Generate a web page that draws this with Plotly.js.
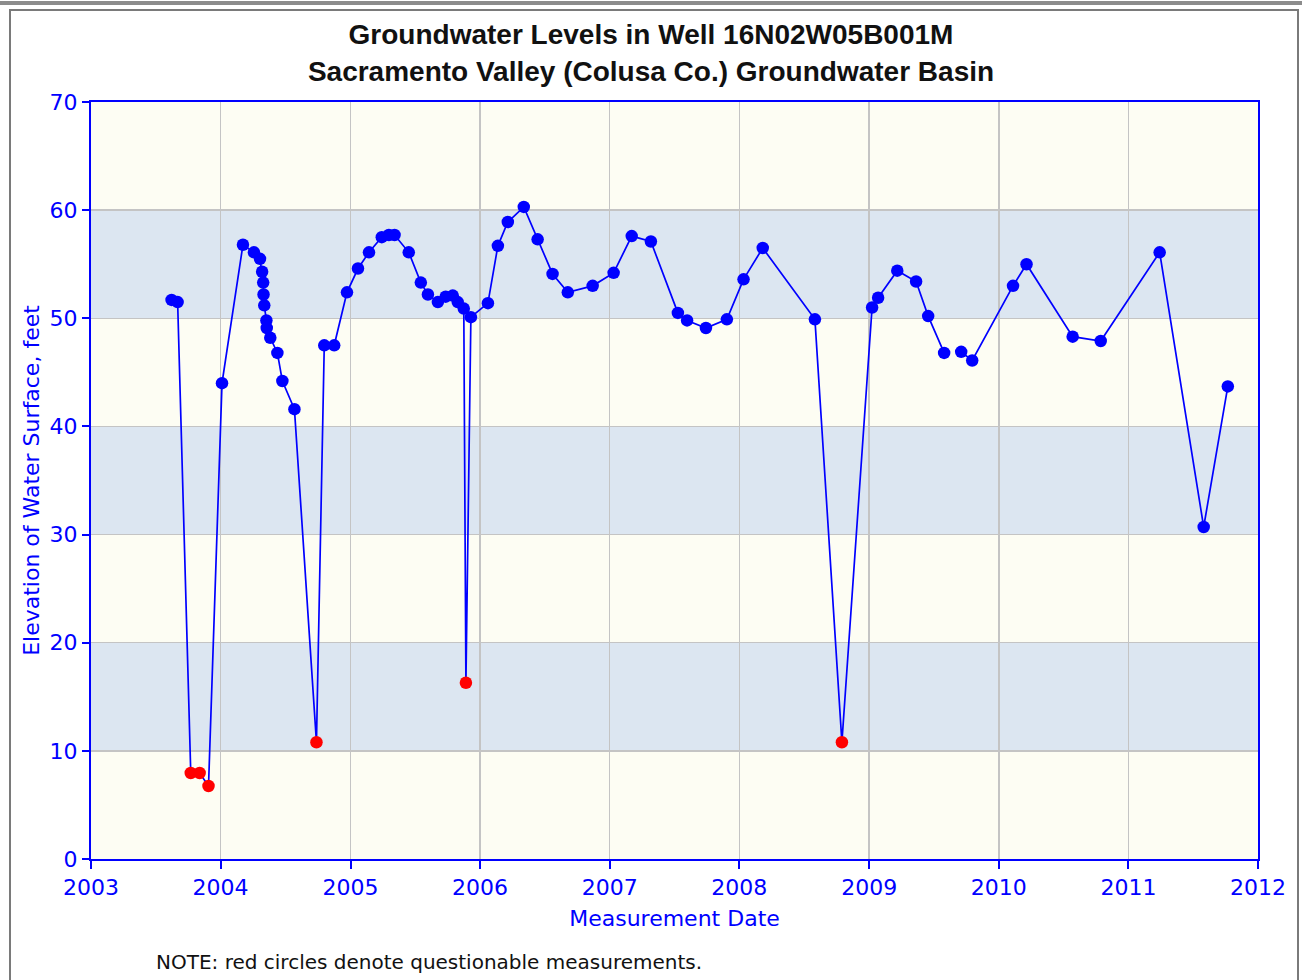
<!DOCTYPE html>
<html>
<head>
<meta charset="utf-8">
<script src="https://cdn.plot.ly/plotly-3.0.1.min.js"></script>
<style>
  html, body { margin: 0; padding: 0; background: #ffffff; }
  #wrap { position: relative; width: 1302px; height: 980px; overflow: hidden; }
  #chart { position: absolute; left: 0; top: 0; width: 1302px; height: 980px; }
  #topline { position: absolute; left: 0; top: 1px; width: 1302px; height: 4px; background: #8c8c8c; pointer-events: none; }
  #frame { position: absolute; left: 9px; top: 9px; width: 1286px; height: 980px; border: 2px solid #7a7a7a; border-bottom: none; pointer-events: none; }
</style>
</head>
<body>
<div id="wrap">
  <div id="chart"></div>
  <div id="topline"></div>
  <div id="frame"></div>
</div>
<script>
const dates = [
  "2003-08-16","2003-09-02","2003-10-09","2003-11-03","2003-11-28",
  "2004-01-05","2004-03-04","2004-04-04","2004-04-21","2004-04-27","2004-04-30","2004-05-01","2004-05-03","2004-05-09","2004-05-10","2004-05-20","2004-06-09","2004-06-23","2004-07-27","2004-09-27","2004-10-19","2004-11-16","2004-12-22",
  "2005-01-22","2005-02-22","2005-03-30","2005-04-19","2005-05-05","2005-06-14","2005-07-18","2005-08-07","2005-09-04","2005-09-26","2005-10-16","2005-10-30","2005-11-16","2005-11-22","2005-12-06",
  "2006-01-23","2006-02-20","2006-03-20","2006-05-04","2006-06-12","2006-07-24","2006-09-05","2006-11-14",
  "2007-01-12","2007-03-04","2007-04-27","2007-07-12","2007-08-07","2007-09-29","2007-11-27",
  "2008-01-13","2008-03-07","2008-08-01","2008-10-16",
  "2009-01-09","2009-01-26","2009-03-21","2009-05-13","2009-06-16","2009-07-31","2009-09-17","2009-10-18",
  "2010-02-10","2010-03-20","2010-07-28","2010-10-15",
  "2011-03-30","2011-08-01","2011-10-08"
];
// Elevation of water surface, feet
const levels = [
  51.7,51.5,7.95,7.95,6.75,
  44.0,56.8,56.1,55.5,54.3,53.3,52.2,51.2,49.8,49.1,48.2,46.8,44.2,41.6,10.8,47.5,47.5,52.4,
  54.6,56.1,57.5,57.7,57.7,56.1,53.3,52.2,51.5,52.0,52.1,51.5,50.9,16.3,50.1,
  51.4,56.7,58.9,60.3,57.3,54.1,52.4,53.0,
  54.2,57.6,57.1,50.5,49.8,49.1,49.9,
  53.6,56.5,49.9,10.8,
  51.0,51.9,54.4,53.4,50.2,46.8,46.9,46.1,
  53.0,55.0,48.3,47.9,
  56.1,30.7,43.7
];
// 1 = questionable measurement (red circle)
const questionable = [
  0,0,1,1,1,
  0,0,0,0,0,0,0,0,0,0,0,0,0,0,1,0,0,0,
  0,0,0,0,0,0,0,0,0,0,0,0,0,1,0,
  0,0,0,0,0,0,0,0,
  0,0,0,0,0,0,0,
  0,0,0,1,
  0,0,0,0,0,0,0,0,
  0,0,0,0,
  0,0,0
];
// The line is broken before this measurement date
const lineBreaks = ["2009-09-17"];

const xTickVals = ["2003-01-01","2004-01-01","2005-01-01","2006-01-01","2007-01-01","2008-01-01","2009-01-01","2010-01-01","2011-01-01","2012-01-01"];
const xTickText = ["2003","2004","2005","2006","2007","2008","2009","2010","2011","2012"];
const yTickVals = [0,10,20,30,40,50,60,70];

// build line arrays with gaps
const lx = [], ly = [];
dates.forEach((d, i) => {
  if (lineBreaks.includes(d)) { lx.push(null); ly.push(null); }
  lx.push(d); ly.push(levels[i]);
});

const BLUE = "#0000ff";
const RED = "#ff0000";

const lineTrace = {
  x: lx, y: ly, type: "scatter", mode: "lines",
  line: { color: BLUE, width: 1.7 },
  connectgaps: false, hoverinfo: "skip", showlegend: false
};
const markerTrace = {
  x: dates, y: levels, type: "scatter", mode: "markers",
  marker: { size: 12.5, color: questionable.map(q => q ? RED : BLUE), line: { width: 0 } },
  showlegend: false
};

// alternating background bands
const bandShapes = [];
for (let k = 0; k < 7; k++) {
  bandShapes.push({
    type: "rect", xref: "paper", yref: "y", x0: 0, x1: 1, y0: k * 10, y1: k * 10 + 10,
    fillcolor: (k % 2 === 1) ? "#dce6f1" : "#fdfdf3", line: { width: 0 }, layer: "below"
  });
}

const FONT = "DejaVu Sans, Verdana, sans-serif";
const tickFont = { family: FONT, size: 22, color: BLUE };

const layout = {
  width: 1302, height: 980,
  margin: { l: 91, r: 44, t: 102, b: 121 },
  paper_bgcolor: "rgba(0,0,0,0)",
  plot_bgcolor: "#fdfdf3",
  title: {
    text: "Groundwater Levels in Well 16N02W05B001M<br>Sacramento Valley (Colusa Co.) Groundwater Basin",
    font: { family: "Liberation Sans, Arial, sans-serif", size: 28, color: "#111111", weight: "bold" },
    x: 0.5, xanchor: "center", y: 0.955, yanchor: "middle"
  },
  xaxis: {
    type: "date",
    range: ["2003-01-01", "2012-01-01"],
    tickmode: "array", tickvals: xTickVals, ticktext: xTickText,
    showgrid: true, gridcolor: "#c4c4c4", gridwidth: 1.5,
    showline: true, linecolor: BLUE, linewidth: 2, mirror: true,
    ticks: "outside", ticklen: 8, tickcolor: BLUE, tickwidth: 2,
    tickfont: tickFont,
    zeroline: false,
    title: { text: "Measurement Date", font: { family: FONT, size: 22, color: BLUE }, standoff: 11 }
  },
  yaxis: {
    range: [0, 70],
    tickmode: "array", tickvals: yTickVals,
    showgrid: true, gridcolor: "#c4c4c4", gridwidth: 1.5,
    showline: true, linecolor: BLUE, linewidth: 2, mirror: true,
    ticks: "outside", ticklen: 7, tickcolor: BLUE, tickwidth: 2,
    tickfont: tickFont,
    zeroline: false,
    title: { text: "Elevation of Water Surface, feet", font: { family: FONT, size: 22, color: BLUE }, standoff: 4 }
  },
  shapes: bandShapes,
  annotations: [{
    text: "NOTE: red circles denote questionable measurements.",
    xref: "paper", yref: "paper", x: (154 - 91) / 1167, y: -(962 - 859) / 757,
    xanchor: "left", yanchor: "middle", showarrow: false,
    font: { family: FONT, size: 20, color: "#111111" }
  }],
  showlegend: false
};

Plotly.newPlot("chart", [lineTrace, markerTrace], layout, { displayModeBar: false, staticPlot: true });
</script>
</body>
</html>
